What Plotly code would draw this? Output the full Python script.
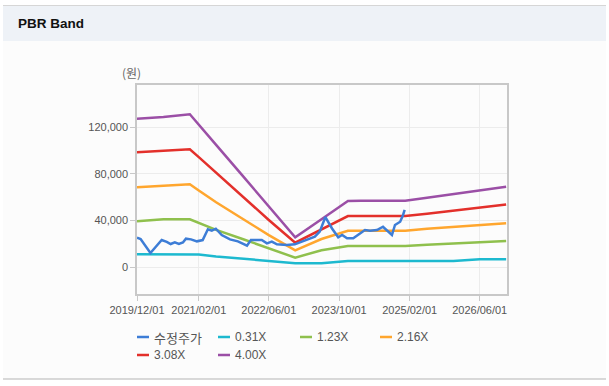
import plotly.graph_objects as go

# ---------------- data ----------------
price_dates = [
    "2019-12-01", "2019-12-26", "2020-03-03", "2020-04-09", "2020-05-20", "2020-06-24",
    "2020-07-21", "2020-08-19", "2020-09-16", "2020-10-14", "2020-11-04", "2020-12-09",
    "2021-01-19", "2021-02-28", "2021-04-05", "2021-05-02", "2021-05-30", "2021-07-10",
    "2021-09-05", "2021-10-30", "2022-01-01", "2022-01-28", "2022-04-13", "2022-05-19",
    "2022-06-22", "2022-07-27", "2022-10-04", "2022-11-28", "2023-02-21", "2023-04-16",
    "2023-05-20", "2023-06-28", "2023-08-13", "2023-09-25", "2023-10-22", "2023-11-25",
    "2024-01-07", "2024-02-10", "2024-03-28", "2024-05-02", "2024-06-19", "2024-07-31",
    "2024-09-04", "2024-10-01", "2024-10-22", "2024-11-27", "2024-12-17", "2024-12-28",
]
price_values = [
    25100, 24000, 12000, 17500, 23100, 21500,
    19700, 21100, 19700, 21000, 24300, 23700,
    22000, 23100, 32300, 31100, 32800, 27400,
    23700, 22000, 18300, 23100, 23100, 20300,
    21700, 19400, 18900, 19400, 23100, 26000,
    30300, 42800, 33000, 25500, 27400, 24600,
    24600, 27400, 31700, 31000, 31700, 34500,
    30500, 27400, 36000, 38800, 44600, 48900,
]

band_dates = [
    "2019-12-01", "2020-06-01", "2020-12-01", "2021-02-01", "2021-06-01", "2021-12-01",
    "2022-06-01", "2022-12-01", "2023-06-01", "2023-12-01", "2024-03-01", "2024-09-01",
    "2025-01-01", "2025-06-01", "2025-12-01", "2026-06-01", "2026-12-01",
]
band_031 = [10900, 10900, 10900, 10700, 9000, 7200, 5000, 3300, 3300, 5100, 5100, 5100,
            5100, 5100, 5100, 6600, 6600]
band_123 = [39200, 40900, 40900, 37600, 31800, 24000, 16300, 8000, 14400, 18000, 18000, 18000,
            18000, 19000, 20100, 21200, 22300]
band_216 = [68300, 69600, 70900, 65500, 55500, 41400, 27300, 14300, 24000, 31000, 31100, 31100,
            31100, 32700, 34300, 35900, 37500]
band_308 = [98300, 99500, 100900, 94200, 80800, 60600, 40300, 20800, 32400, 43700, 43700, 43700,
            43700, 45700, 48300, 50900, 53500]
band_400 = [127100, 128500, 130900, 122200, 104700, 78300, 51900, 25500, 41000, 56500, 56700, 56700,
            56700, 59400, 62500, 65600, 68700]

series_names = ["수정주가", "0.31X", "1.23X", "2.16X", "3.08X", "4.00X"]
series_colors = ["#3d7dd6", "#1db9cf", "#8fc04d", "#ffa62e", "#e3302b", "#9b4fa6"]

x_tick_vals = ["2019-12-01", "2021-02-01", "2022-06-01", "2023-10-01", "2025-02-01", "2026-06-01"]
x_tick_text = ["2019/12/01", "2021/02/01", "2022/06/01", "2023/10/01", "2025/02/01", "2026/06/01"]
y_tick_vals = [0, 40000, 80000, 120000]
y_tick_text = ["0", "40,000", "80,000", "120,000"]

# ---------------- figure ----------------
W, H = 609, 386
L, R, T, B = 137, 102, 85, 92
PW, PH = W - L - R, H - T - B


def px(x):
    return (x - L) / PW


def py(y):
    return (H - B - y) / PH


fig = go.Figure()
band_list = [band_031, band_123, band_216, band_308, band_400]
for name, col, vals in zip(series_names[1:], series_colors[1:], band_list):
    fig.add_trace(go.Scatter(x=band_dates, y=vals, mode="lines", name=name,
                             line=dict(color=col, width=2.5), showlegend=False))
fig.add_trace(go.Scatter(x=price_dates, y=price_values, mode="lines", name=series_names[0],
                         line=dict(color=series_colors[0], width=2.5), showlegend=False))

shapes = [
    dict(type="rect", xref="paper", yref="paper", x0=px(3), x1=px(606), y0=py(379), y1=py(5),
         fillcolor="#fcfcfc", line=dict(width=0), layer="below"),
    dict(type="rect", xref="paper", yref="paper", x0=px(3), x1=px(606), y0=py(41), y1=py(5),
         fillcolor="#eef2f7", line=dict(width=0), layer="below"),
    dict(type="line", xref="paper", yref="paper", x0=px(3), x1=px(606), y0=py(5.5), y1=py(5.5),
         line=dict(color="#d6d6d6", width=1)),
    dict(type="line", xref="paper", yref="paper", x0=px(3), x1=px(606), y0=py(379), y1=py(379),
         line=dict(color="#cccccc", width=1.5)),
]

annotations = [
    dict(text="<b>PBR Band</b>", xref="paper", yref="paper", x=px(16), y=py(24),
         xanchor="left", yanchor="middle", showarrow=False,
         font=dict(family="Liberation Sans, Arial", size=13.5, color="#111111")),
    dict(text="(원)", xref="paper", yref="paper", x=px(131), y=py(73),
         xanchor="center", yanchor="middle", showarrow=False,
         font=dict(family="Noto Sans CJK KR", size=12, color="#666666")),
]

legend_pos = [(137, 337), (218, 337), (300, 337), (380, 337), (137, 355), (218, 355)]
for (lx, ly), name, col in zip(legend_pos, series_names, series_colors):
    shapes.append(dict(type="line", xref="paper", yref="paper", x0=px(lx), x1=px(lx + 12),
                       y0=py(ly), y1=py(ly), line=dict(color=col, width=2.5)))
    is_kr = name == series_names[0]
    annotations.append(dict(text=name, xref="paper", yref="paper", x=px(lx + 15), y=py(ly),
                            xanchor="left", yanchor="middle", showarrow=False,
                            font=dict(family="Noto Sans CJK KR" if is_kr else "Liberation Sans, Arial",
                                      size=13 if is_kr else 12, color="#555555")))

fig.update_layout(
    width=W, height=H,
    margin=dict(l=L, r=R, t=T, b=B),
    paper_bgcolor="#ffffff", plot_bgcolor="#ffffff",
    shapes=shapes, annotations=annotations,
    showlegend=False,
    xaxis=dict(type="date", range=["2019-12-01", "2026-12-07"],
               tickvals=x_tick_vals, ticktext=x_tick_text,
               showgrid=True, gridcolor="#ececec", gridwidth=1,
               showline=True, linecolor="#c8c8c8", linewidth=1.5, mirror=True,
               ticks="outside", ticklen=5, tickcolor="#c8c8c8",
               tickfont=dict(family="Liberation Sans, Arial", size=11, color="#555555"),
               zeroline=False),
    yaxis=dict(range=[-23143, 156000], tickvals=y_tick_vals, ticktext=y_tick_text,
               showgrid=True, gridcolor="#ececec", gridwidth=1,
               showline=True, linecolor="#c8c8c8", linewidth=1.5, mirror=True,
               ticks="outside", ticklen=5, tickcolor="#c8c8c8",
               tickfont=dict(family="Liberation Sans, Arial", size=11, color="#555555"),
               zeroline=False),
    font=dict(family="Liberation Sans, Arial"),
)

fig.write_html("out.html", config={"displayModeBar": False},
               post_script="document.body.style.margin='0';document.body.style.overflow='hidden';")
